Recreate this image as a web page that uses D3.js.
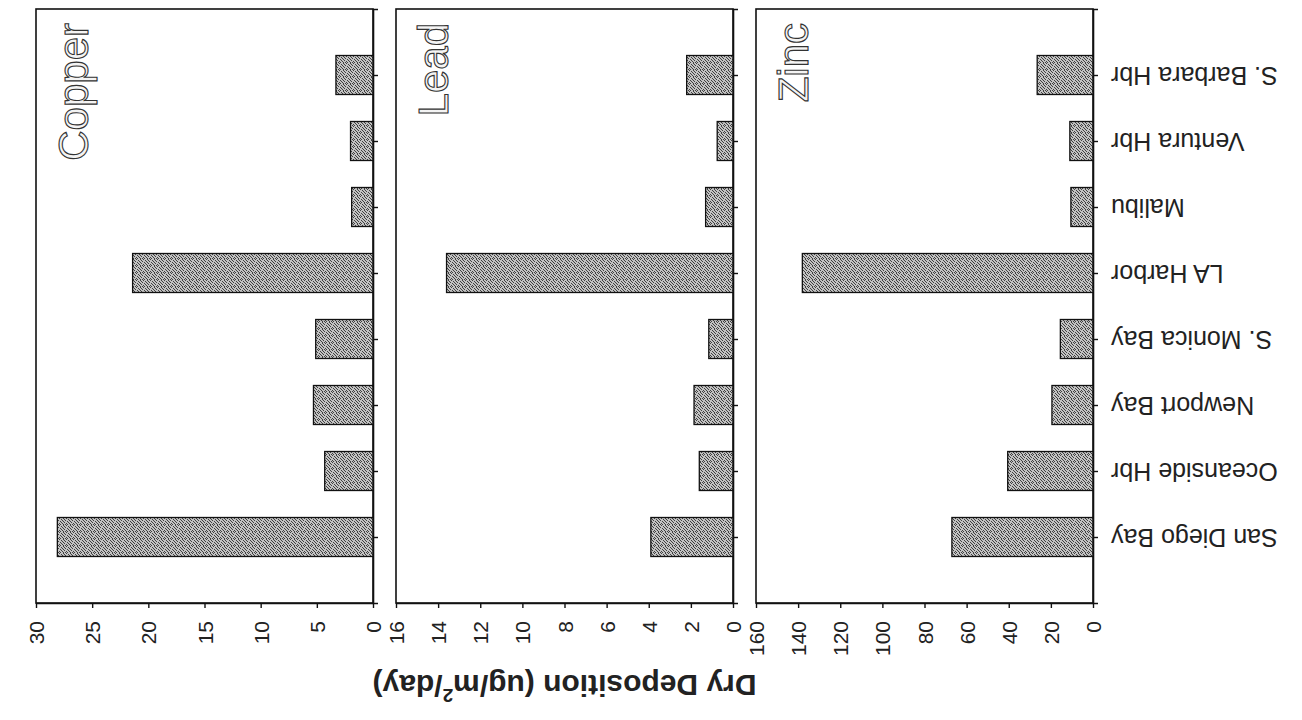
<!DOCTYPE html>
<html>
<head>
<meta charset="utf-8">
<script src="https://cdn.jsdelivr.net/npm/d3@7"></script>
<style>
  body { margin: 0; background: #fff; }
  text { font-family: "Liberation Sans", Arial, sans-serif; fill: #222; }
</style>
</head>
<body>
<script>

var categories = ["San Diego Bay", "Oceanside Hbr", "Newport Bay", "S. Monica Bay",
                  "LA Harbor", "Malibu", "Ventura Hbr", "S. Barbara Hbr"];
var metals = ["Copper", "Lead", "Zinc"];
var copper = [28.1, 4.3, 5.3, 5.1, 21.4, 1.9, 2.0, 3.3];
var lead   = [3.9, 1.6, 1.85, 1.15, 13.6, 1.3, 0.75, 2.2];
var zinc   = [67, 40.5, 19.5, 15.5, 138, 10.5, 11, 26.5];
var axisMax   = [30, 16, 160];
var tickSteps = [5, 2, 20];
var axisTitle = "Dry Deposition (ug/m";

var series = [copper, lead, zinc];

// ---------- size
// (note: "top" is taken by window.top, so the plot edges get other names)
var w = 1302, h = 720;
var plotTop = 9, plotBottom = 603;
var panelW = 337, gap = 23, firstLeft = 36;

var svg = d3.select("body")
            .append("svg")
            .attr("width", w)
            .attr("height", h);

// stippled grey fill like the scan
var pat = svg.append("defs")
             .append("pattern")
             .attr("id", "stipple")
             .attr("patternUnits", "userSpaceOnUse")
             .attr("width", 7)
             .attr("height", 7);
pat.append("rect").attr("width", 7).attr("height", 7).attr("fill", "#c2c2c2");
[[0,0],[3,0],[5,1],[1,1],[2,2],[6,2],[4,3],[0,3],[1,4],[5,4],[3,5],[6,5],[0,6],[2,6],[4,6]].forEach(function(p) {
  pat.append("rect")
     .attr("x", p[0]).attr("y", p[1])
     .attr("width", 1).attr("height", 1)
     .attr("fill", "#404040");
});

// category scale is shared (San Diego at the bottom, S. Barbara at the top)
var yScale = d3.scalePoint()
               .domain(categories)
               .range([plotBottom, plotTop])
               .padding(1);

metals.forEach(function(name, k) {
  var left = firstLeft + k * (panelW + gap);
  var right = left + panelW;

  // values run from the right edge (0) to the left edge (max)
  var xScale = d3.scaleLinear()
                 .domain([0, axisMax[k]])
                 .range([right, left]);

  var g = svg.append("g");

  // frame
  g.append("rect")
   .attr("x", left)
   .attr("y", plotTop)
   .attr("width", panelW)
   .attr("height", plotBottom - plotTop)
   .attr("fill", "none")
   .attr("stroke", "#111")
   .attr("stroke-width", 1.6);

  // bars
  g.selectAll("rect.bar")
   .data(series[k])
   .enter()
   .append("rect")
   .attr("class", "bar")
   .attr("x", function(d) { return xScale(d); })
   .attr("y", function(d, i) { return yScale(categories[i]) - 19.5; })
   .attr("width", function(d) { return xScale(0) - xScale(d); })
   .attr("height", 39)
   .attr("fill", "url(#stipple)")
   .attr("stroke", "#111")
   .attr("stroke-width", 1.3);

  // value axis along the bottom, labels read bottom-to-top
  var xAxis = d3.axisBottom(xScale)
                .tickValues(d3.range(0, axisMax[k] + tickSteps[k] / 2, tickSteps[k]))
                .tickSize(5)
                .tickSizeOuter(0);
  var xa = g.append("g")
            .attr("transform", "translate(0," + plotBottom + ")")
            .call(xAxis);
  xa.select(".domain").attr("stroke", "#111").attr("stroke-width", 1.6);
  xa.selectAll(".tick line").attr("stroke", "#111").attr("stroke-width", 1.4);
  xa.selectAll(".tick text")
    .attr("transform", "rotate(-90)")
    .attr("x", -18)
    .attr("y", 0)
    .attr("dy", "0.36em")
    .attr("text-anchor", "end")
    .attr("font-size", "21px")
    .attr("fill", "#222");

  // category axis on the zero line
  var yAxis = d3.axisRight(yScale)
                .tickSize(5)
                .tickSizeOuter(5);
  var ya = g.append("g")
            .attr("transform", "translate(" + right + ",0)")
            .call(yAxis);
  ya.select(".domain").attr("stroke", "#111").attr("stroke-width", 1.6);
  ya.selectAll(".tick line").attr("stroke", "#111").attr("stroke-width", 1.4);
  if (k === metals.length - 1) {
    ya.selectAll(".tick text")
      .attr("transform", "rotate(180)")
      .attr("x", -18)
      .attr("dy", "0.36em")
      .attr("text-anchor", "end")
      .attr("font-size", "25px")
      .attr("fill", "#222");
  } else {
    ya.selectAll(".tick text").remove();
  }

  // panel name, outlined letters
  g.append("text")
   .text(name)
   .attr("transform", "translate(" + (left + 52) + "," + (plotTop + 14) + ") rotate(-90)")
   .attr("text-anchor", "end")
   .attr("font-size", "42px")
   .style("fill", "#f4f4f4")
   .attr("stroke", "#333")
   .attr("stroke-width", 1.1);
});

// shared axis title, upside down
var lastRight = firstLeft + 3 * panelW + 2 * gap;
var title = svg.append("text")
               .attr("transform", "translate(" + ((firstLeft + lastRight) / 2) + ",675) rotate(180)")
               .attr("text-anchor", "middle")
               .attr("font-size", "30px")
               .attr("font-weight", "bold");
title.append("tspan").text(axisTitle);
title.append("tspan").text("2").attr("font-size", "19px").attr("dy", "-0.75em");
title.append("tspan").text("/day)").attr("dy", "0.48em");

</script>
</body>
</html>
